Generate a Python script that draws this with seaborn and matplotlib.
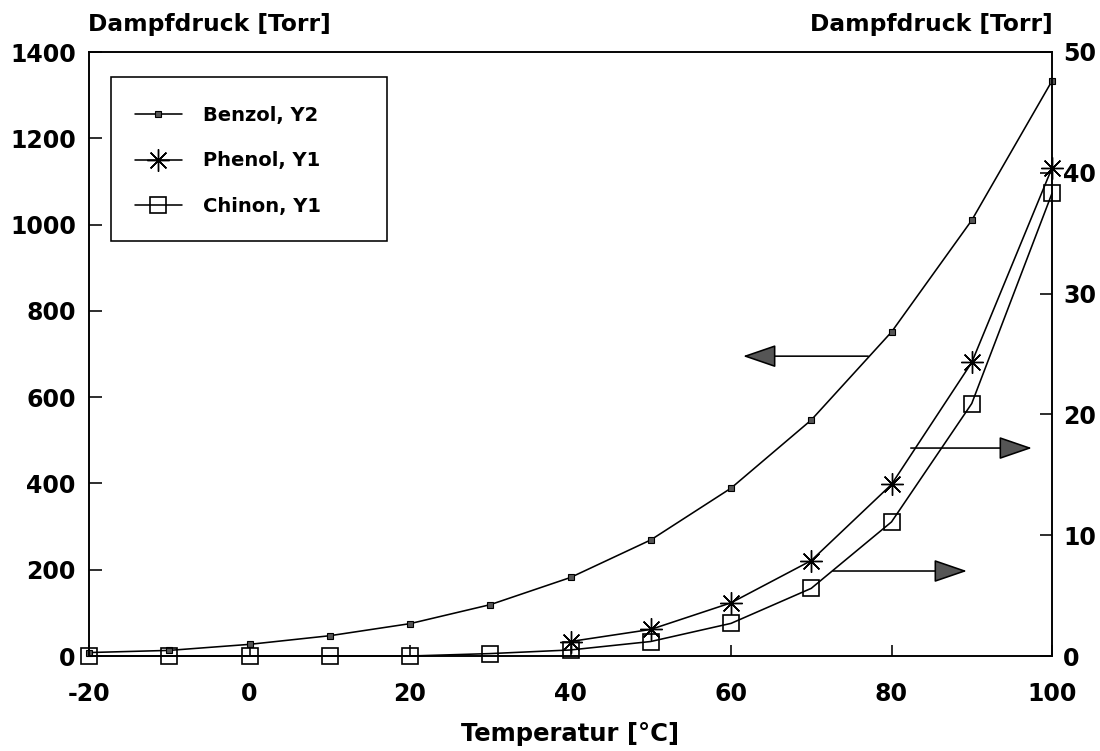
import matplotlib
matplotlib.use("Agg")
import matplotlib.pyplot as plt
import seaborn as sns
from matplotlib.lines import Line2D
from matplotlib.patches import Rectangle

# Temperatures in degrees Celsius
temperature = [-20, -10, 0, 10, 20, 30, 40, 50, 60, 70, 80, 90, 100]
# Vapour pressures in Torr
benzol = [8, 13, 27, 47, 75, 119, 182, 269, 389, 547, 751, 1010, 1333]
phenol_temperature = [40, 50, 60, 70, 80, 90, 100]
phenol = [1.2, 2.2, 4.4, 7.9, 14.2, 24.3, 40.4]
chinon = [0, 0, 0, 0, 0, 0.2, 0.5, 1.2, 2.7, 5.6, 11.1, 20.9, 38.3]

x_ticks = [-20, 0, 20, 40, 60, 80, 100]
left_ticks = [0, 200, 400, 600, 800, 1000, 1200, 1400]
right_ticks = [0, 10, 20, 30, 40, 50]
series_labels = ["Benzol, Y2", "Phenol, Y1", "Chinon, Y1"]

sns.set_style("ticks")
plt.rcParams["font.family"] = ["DejaVu Sans"]
plt.rcParams["font.weight"] = "bold"
plt.rcParams["text.color"] = "black"

fig = plt.figure(figsize=(11, 7.51), dpi=100)
ax = fig.add_axes([89 / 1100, 1 - 656 / 751, (1052 - 89) / 1100, (656 - 52) / 751])
ax2 = ax.twinx()

LW = 1.15
benzol_style = dict(color="black", lw=LW, marker="s", markersize=4.2,
                    markerfacecolor="#555555", markeredgecolor="black",
                    markeredgewidth=0.8)
phenol_style = dict(color="black", lw=LW, marker=(8, 2, 0), markersize=16,
                    markeredgecolor="black", markeredgewidth=1.0)
chinon_style = dict(color="black", lw=LW, marker="s", markersize=11.5,
                    markerfacecolor="none", markeredgecolor="black",
                    markeredgewidth=1.2)

sns.lineplot(x=temperature, y=benzol, ax=ax, errorbar=None, legend=False,
             clip_on=False, **benzol_style)
sns.lineplot(x=phenol_temperature, y=phenol, ax=ax2, errorbar=None,
             legend=False, clip_on=False, **phenol_style)
sns.lineplot(x=temperature, y=chinon, ax=ax2, errorbar=None, legend=False,
             clip_on=False, **chinon_style)

ax.set_xlim(-20, 100)
ax.set_ylim(0, 1400)
ax2.set_ylim(0, 50)
ax.set_xticks(x_ticks)
ax.set_xticklabels([str(v) for v in x_ticks])
ax.set_yticks(left_ticks)
ax.set_yticklabels([str(v) for v in left_ticks])
ax2.set_yticks(right_ticks)
ax2.set_yticklabels([str(v) for v in right_ticks])
ax.set_xlabel("")
ax.set_ylabel("")
ax2.set_ylabel("")

ax.tick_params(axis="y", direction="in", length=9.5, width=LW, pad=9.5,
               labelsize=17, colors="black")
ax.tick_params(axis="x", direction="in", length=8, width=LW, pad=19,
               labelsize=17, colors="black")
ax2.tick_params(axis="y", direction="in", length=9, width=LW, pad=8,
                labelsize=17, colors="black")
for a in (ax, ax2):
    for sp in a.spines.values():
        sp.set_color("black")
        sp.set_linewidth(LW)

# Arrows pointing each curve to its axis
arrow_props = dict(arrowstyle="-|>,head_length=1.05,head_width=0.36",
                   mutation_scale=20, edgecolor="black", facecolor="#555555",
                   lw=LW, shrinkA=0, shrinkB=0)
for start, end, y in [(77.1, 61.5, 695), (82.4, 97.5, 482), (72.7, 89.4, 197)]:
    ax.annotate("", xy=(end, y), xytext=(start, y), xycoords="data",
                textcoords="data", arrowprops=arrow_props)

# Legend with its own frame
frame = Rectangle(((111 - 89) / 963, (656 - 241) / 604), (387 - 111) / 963,
                  (241 - 77) / 604, transform=ax2.transAxes, fill=True,
                  facecolor="white", edgecolor="black", lw=LW, zorder=5)
ax2.add_patch(frame)
handles = [Line2D([], [], **benzol_style), Line2D([], [], **phenol_style),
           Line2D([], [], **chinon_style)]
leg = ax2.legend(handles, series_labels, loc="center left",
                 bbox_to_anchor=((135 - 89) / 963, (656 - 161) / 604),
                 frameon=False, fontsize=14, handlelength=2.4,
                 handletextpad=1.1, labelspacing=1.35, borderpad=0,
                 borderaxespad=0)
leg.set_zorder(6)

fig.text(88 / 1100, 1 - 25 / 751, "Dampfdruck [Torr]", ha="left",
         va="center", fontsize=16.8)
fig.text(1053 / 1100, 1 - 25 / 751, "Dampfdruck [Torr]", ha="right",
         va="center", fontsize=16.8)
fig.text(570 / 1100, 1 - 734 / 751, "Temperatur [°C]", ha="center",
         va="center", fontsize=17.5)

fig.savefig("out.png", dpi=100, facecolor="white")
